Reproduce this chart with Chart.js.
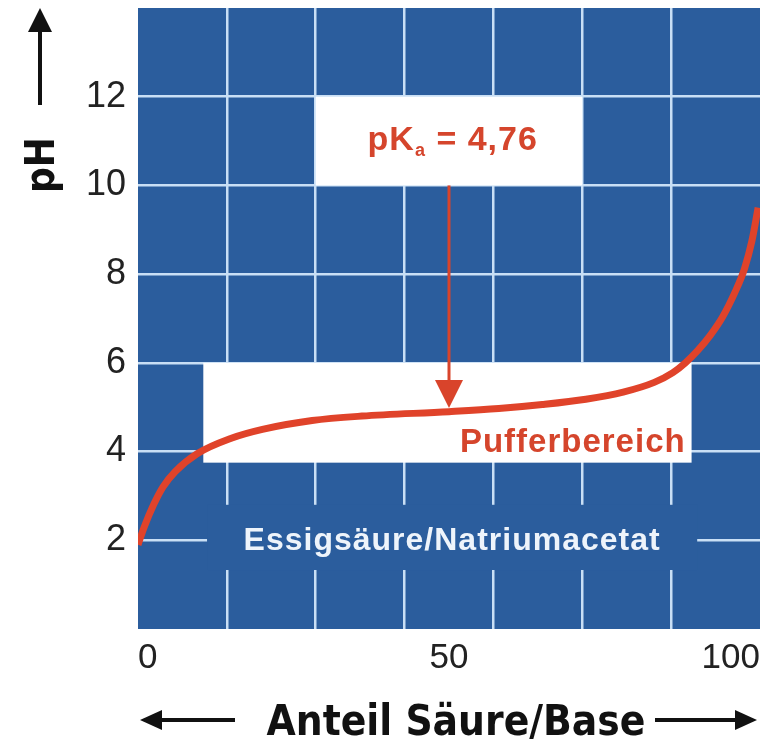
<!DOCTYPE html>
<html>
<head>
<meta charset="utf-8">
<script src="https://cdn.jsdelivr.net/npm/chart.js@4.4.0/dist/chart.umd.min.js"></script>
<style>
html, body { margin: 0; padding: 0; background: #fff; }
#wrap { width: 775px; height: 743px; }
</style>
</head>
<body>
<div id="wrap"><canvas id="phChart"></canvas></div>
<script>
// Titrationskurve Essigsäure/Natriumacetat
var anteil  = [0, 1, 2.5, 4, 6, 9.5, 15, 20, 28, 36, 50, 58, 65, 72, 78, 83, 86, 88, 90, 92, 94, 96, 97.5, 98.7, 99.7];
var phWerte = [1.9, 2.3, 2.8, 3.2, 3.55, 3.95, 4.3, 4.5, 4.7, 4.8, 4.9, 4.97, 5.06, 5.18, 5.34, 5.56, 5.78, 6.0, 6.28, 6.62, 7.04, 7.6, 8.12, 8.75, 9.5];
var xTicks = [0, 50, 100];
var yTicks = [2, 4, 6, 8, 10, 12];
var pKaText = '4,76';

var blau = '#2b5d9d';
var gitter = '#c9dff5';
var rot = '#e0432a';
var spalten = 7;

var punkte = anteil.map(function (x, i) { return { x: x, y: phWerte[i] }; });

function pfeil(ctx, x1, y1, x2, y2, kopfL, kopfB, farbe, dicke) {
    var w = Math.atan2(y2 - y1, x2 - x1);
    var bx = x2 - Math.cos(w) * kopfL, by = y2 - Math.sin(w) * kopfL;
    ctx.save();
    ctx.strokeStyle = farbe;
    ctx.fillStyle = farbe;
    ctx.lineWidth = dicke;
    ctx.beginPath();
    ctx.moveTo(x1, y1);
    ctx.lineTo(bx, by);
    ctx.stroke();
    ctx.beginPath();
    ctx.moveTo(x2, y2);
    ctx.lineTo(bx + Math.sin(w) * kopfB / 2, by - Math.cos(w) * kopfB / 2);
    ctx.lineTo(bx - Math.sin(w) * kopfB / 2, by + Math.cos(w) * kopfB / 2);
    ctx.closePath();
    ctx.fill();
    ctx.restore();
}

var deko = {
    id: 'deko',
    beforeDraw: function (chart) {
        var ctx = chart.ctx, a = chart.chartArea;
        ctx.save();
        ctx.fillStyle = '#fff';
        ctx.fillRect(0, 0, chart.width, chart.height);
        ctx.fillStyle = blau;
        ctx.fillRect(a.left, a.top, a.right - a.left, a.bottom - a.top);
        ctx.restore();
    },
    beforeDatasetsDraw: function (chart) {
        var ctx = chart.ctx, xs = chart.scales.x, ys = chart.scales.y;
        function box(x1, x2, y1, y2, farbe) {
            var l = xs.getPixelForValue(x1), r = xs.getPixelForValue(x2);
            var t = ys.getPixelForValue(y2), b = ys.getPixelForValue(y1);
            ctx.fillStyle = farbe;
            ctx.fillRect(l, t, r - l, b - t);
        }
        ctx.save();
        box(11.1, 89.9, 1.33, 2.8, blau);
        box(200 / 7, 500 / 7, 10, 12, '#fff');
        box(10.5, 89, 3.75, 6, '#fff');
        ctx.restore();
    },
    afterDatasetsDraw: function (chart) {
        var ctx = chart.ctx, xs = chart.scales.x, ys = chart.scales.y;
        // Pfeil pKa -> Kurve
        var ax = xs.getPixelForValue(50);
        pfeil(ctx, ax, ys.getPixelForValue(10), ax, ys.getPixelForValue(4.98), 28, 28, '#d9442b', 3);

        ctx.save();
        ctx.textBaseline = 'alphabetic';
        // pKa = 4,76
        ctx.fillStyle = '#d5452c';
        ctx.letterSpacing = '1px';
        var f1 = 'bold 34px "Liberation Sans", Arial, sans-serif';
        var f2 = 'bold 18px "Liberation Sans", Arial, sans-serif';
        ctx.font = f1;
        var w1 = ctx.measureText('pK').width;
        var w3 = ctx.measureText(' = ' + pKaText).width;
        ctx.font = f2;
        var w2 = ctx.measureText('a').width;
        var cx = xs.getPixelForValue(50.6), by = ys.getPixelForValue(10.8);
        var sx = cx - (w1 + w2 + w3) / 2;
        ctx.textAlign = 'left';
        ctx.font = f1;
        ctx.fillText('pK', sx, by);
        ctx.font = f2;
        ctx.fillText('a', sx + w1, by + 6);
        ctx.font = f1;
        ctx.fillText(' = ' + pKaText, sx + w1 + w2, by);

        // Pufferbereich
        ctx.textAlign = 'center';
        ctx.letterSpacing = '1px';
        ctx.font = 'bold 33px "Liberation Sans", Arial, sans-serif';
        ctx.fillStyle = '#d5452c';
        ctx.fillText('Pufferbereich', xs.getPixelForValue(69.9), ys.getPixelForValue(3.98));

        // Essigsäure/Natriumacetat
        ctx.font = 'bold 32px "Liberation Sans", Arial, sans-serif';
        ctx.fillStyle = '#eef4fb';
        ctx.fillText('Essigsäure/Natriumacetat', xs.getPixelForValue(50.5), ys.getPixelForValue(1.78));

        // Achsentitel
        ctx.letterSpacing = '0px';
        ctx.fillStyle = '#111';
        ctx.font = 'bold 42px "DejaVu Sans Condensed", "DejaVu Sans", sans-serif';
        ctx.fillText('Anteil Säure/Base', 456, 735);
        ctx.save();
        ctx.translate(54, 165);
        ctx.rotate(-Math.PI / 2);
        ctx.font = 'bold 40px "DejaVu Sans Condensed", "DejaVu Sans", sans-serif';
        ctx.fillText('pH', 0, 0);
        ctx.restore();
        ctx.restore();

        pfeil(ctx, 40, 105, 40, 8, 24, 24, '#111', 4);
        pfeil(ctx, 235, 720, 140, 720, 22, 20, '#111', 4);
        pfeil(ctx, 655, 720, 757, 720, 22, 20, '#111', 4);
    }
};

var chart = new Chart(document.getElementById('phChart'), {
    type: 'line',
    data: {
        datasets: [{
            data: punkte,
            borderColor: rot,
            borderWidth: 7,
            pointRadius: 0,
            fill: false,
            cubicInterpolationMode: 'monotone'
        }]
    },
    options: {
        responsive: true,
        maintainAspectRatio: false,
        animation: false,
        layout: { padding: { top: 8, right: 15, left: 0, bottom: 0 } },
        plugins: { legend: { display: false }, tooltip: { enabled: false } },
        scales: {
            x: {
                type: 'linear',
                min: 0,
                max: 100,
                afterBuildTicks: function (scale) {
                    var t = [];
                    for (var k = 0; k <= spalten; k++) t.push({ value: k * 100 / spalten });
                    t.push({ value: 50 });
                    t.sort(function (a, b) { return a.value - b.value; });
                    scale.ticks = t;
                },
                afterFit: function (scale) {
                    scale.height = 114;
                    scale.paddingLeft = 0;
                    scale.paddingRight = 0;
                },
                border: { display: false },
                grid: {
                    lineWidth: 2.5,
                    drawTicks: false,
                    color: function (c) {
                        var v = c.tick ? c.tick.value : null;
                        return (v === 0 || v === 50 || v === 100) ? 'rgba(0,0,0,0)' : gitter;
                    }
                },
                ticks: {
                    autoSkip: false,
                    maxRotation: 0,
                    align: 'inner',
                    padding: 8,
                    color: '#222',
                    font: { family: '"Liberation Sans", Arial, sans-serif', size: 35 },
                    callback: function (v) { return xTicks.indexOf(v) >= 0 ? String(v) : ''; }
                }
            },
            y: {
                min: 0,
                max: 14,
                afterFit: function (scale) {
                    scale.width = 138;
                    scale.paddingTop = 0;
                    scale.paddingBottom = 0;
                },
                border: { display: false },
                grid: {
                    lineWidth: 2.5,
                    drawTicks: false,
                    color: function (c) {
                        var v = c.tick ? c.tick.value : null;
                        return (v === 0 || v === 14) ? 'rgba(0,0,0,0)' : gitter;
                    }
                },
                ticks: {
                    stepSize: 2,
                    padding: 12,
                    color: '#222',
                    font: { family: '"Liberation Sans", Arial, sans-serif', size: 36 },
                    callback: function (v) { return yTicks.indexOf(v) >= 0 ? String(v) : ''; }
                }
            }
        }
    },
    plugins: [deko]
});
</script>
</body>
</html>
